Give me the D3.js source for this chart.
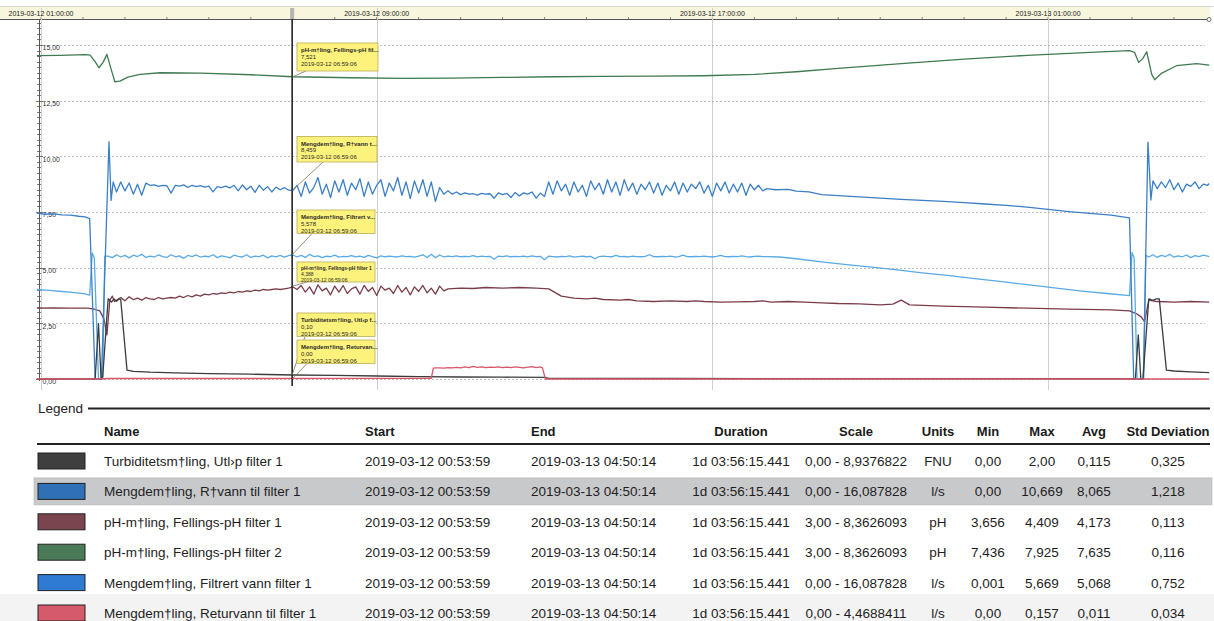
<!DOCTYPE html>
<html><head><meta charset="utf-8">
<script src="https://cdn.jsdelivr.net/npm/d3@7"></script>
<style>
body{margin:0;background:#fff;}
svg{display:block;font-family:"Liberation Sans",Arial,sans-serif;}
</style></head><body>
<svg id="c" width="1214" height="621"></svg>
<script>
// ---------------- DATA ----------------
// times are hours after 2019-03-12 00:00:00
const startHour = 0.8997;   // 00:53:59
const endHour = 28.8373;    // 2019-03-13 04:50:14
const cursorHour = 6.9850;  // 06:59:06
const WIG_STEP = 0.1;       // logging interval of the dense (wiggly) parts, hours

const seriesNames = ["Turbiditetsm†ling, Utl›p filter 1","Mengdem†ling, R†vann til filter 1","pH-m†ling, Fellings-pH filter 1","pH-m†ling, Fellings-pH filter 2","Mengdem†ling, Filtrert vann filter 1","Mengdem†ling, Returvann til filter 1"];
const scaleMins = [0, 0, 3, 3, 0, 0];
const scaleMaxs = [8.9376822, 16.087828, 8.3626093, 8.3626093, 16.087828, 4.4688411];

// Turbidity (FNU)
const turbPts = [[0.90,0.00],[2.29,0.00],[2.37,1.38],[2.43,0.03],[2.47,0.05],[2.60,2.00],[2.68,1.92],[2.74,2.00],[2.80,1.94],[2.86,2.00],[2.90,1.98],[3.05,0.22],[3.20,0.19],[3.60,0.17],[4.20,0.155],[5.00,0.135],[6.00,0.12],[7.00,0.10],[8.00,0.09],[9.00,0.075],[10.0,0.06],[11.0,0.05],[12.0,0.045],[13.0,0.04],[13.1,0.015],[16.0,0.012],[20.0,0.01],[24.0,0.008],[26.94,0.005],[27.08,0.0],[27.15,1.10],[27.21,0.0],[27.26,0.0],[27.40,2.00],[27.50,1.96],[27.58,2.00],[27.65,2.00],[27.82,0.22],[28.0,0.20],[28.4,0.18],[28.84,0.16]];

// Raw water flow (l/s)
const ravannHead = [[0.90,7.45],[1.10,7.40],[1.30,7.42],[1.50,7.37],[1.70,7.36],[1.90,7.31],[2.05,7.28],[2.16,7.20],[2.29,0],[2.44,0],[2.62,10.66],[2.67,8.02],[2.72,8.85]];
const ravannWigStart = 2.8;
const ravannWiggle = [8.40,8.85,8.45,8.80,8.30,8.75,8.25,8.80,
 8.70,8.72,8.65,8.70,8.68,8.35,8.70,8.66,8.72,8.60,8.70,8.64,8.68,8.62,8.66,8.40,8.64,8.60,8.66,8.58,
 8.70,8.45,8.72,8.50,8.66,8.38,8.70,8.48,8.64,8.40,8.62,8.50,8.60,8.48,8.46,
 8.70,8.20,8.85,8.35,8.60,9.05,8.30,8.75,8.15,8.90,8.40,8.95,8.25,8.80,8.50,9.00,8.20,8.85,8.30,8.70,8.95,8.20,8.80,8.45,9.05,8.25,8.85,8.10,8.90,8.35,8.95,8.20,8.85,7.98,8.60,8.30,
 8.45,8.30,8.40,8.28,8.36,8.30,8.32,8.26,8.34,8.30,8.32,8.12,8.36,8.28,8.34,8.15,8.38,8.22,8.36,8.30,8.40,8.12,8.35,8.20,
 8.85,8.30,8.90,8.45,8.75,8.25,8.85,8.40,8.70,8.20,8.90,8.50,8.80,8.30,8.95,8.40,8.85,8.25,8.95,8.45,8.80,8.30,8.75,8.50,8.85,8.35,8.80,8.25,8.70,8.45,8.85,8.30,8.80,8.40,8.75,8.55,8.85,8.35,8.70,8.20,8.80,8.45,8.85,8.35,8.75,8.40,8.80,8.25,8.75,8.50,8.70,8.45];
const ravannTail = [[18.3,8.55],[18.5,8.50],[18.8,8.52],[19.0,8.44],[19.3,8.40],[19.6,8.28],[20.0,8.24],[20.5,8.18],[21.0,8.12],[21.5,8.07],[22.0,8.02],[22.5,7.98],[23.0,7.92],[23.5,7.86],[24.0,7.80],[24.5,7.72],[25.0,7.62],[25.5,7.52],[26.0,7.44],[26.5,7.36],[26.94,7.24],[27.04,0],[27.27,0],[27.38,10.64],[27.45,8.04],[27.50,8.90],[27.6,8.55],[27.7,8.85],[27.8,8.60],[27.9,8.95],[28.0,8.50],[28.1,8.80],[28.2,8.40],[28.3,8.75],[28.4,8.65],[28.5,8.85],[28.6,8.55],[28.7,8.75],[28.8,8.70],[28.84,8.78]];

// pH filter 1
const phOneHead = [[0.90,4.06],[1.30,4.065],[1.70,4.06],[2.10,4.06],[2.24,4.05],[2.40,4.02],[2.50,3.90],[2.57,3.66],[2.64,4.18],[2.70,4.24],[2.75,4.16]];
const phOneWigStart = 2.8;
const phOneWiggle = [4.18,4.22,4.17,4.23,4.19,4.21,4.18,4.22,4.20,4.19,4.22,4.20,4.21,
 4.22,4.21,4.24,4.22,4.25,4.23,4.26,4.24,4.27,4.26,4.28,4.27,4.29,4.28,4.30,4.29,4.31,4.30,4.32,4.31,4.33,4.32,4.34,4.33,4.34,4.35,4.34,4.35,4.36,4.38,
 4.34,4.40,4.30,4.38,4.27,4.41,4.32,4.36,4.26,4.39,4.30,4.40,4.28,4.35,4.38,4.27,4.40,4.31,4.37,4.25,4.39,4.33,4.36,4.28,4.40,4.30,4.37,4.26,4.38,4.31,4.40,4.29,4.36,4.27,4.39,4.32];
const phOneTail = [[10.7,4.35],[11.0,4.36],[11.3,4.355],[11.6,4.37],[12.0,4.36],[12.4,4.37],[12.8,4.36],[13.1,4.35],[13.4,4.24],[13.7,4.21],[14.0,4.20],[14.2,4.21],[14.4,4.19],[14.8,4.18],[15.0,4.19],[15.2,4.17],[15.6,4.16],[16.0,4.17],[16.4,4.16],[16.6,4.17],[16.8,4.16],[17.2,4.15],[17.6,4.155],[18.0,4.16],[18.2,4.17],[18.4,4.15],[18.8,4.16],[19.2,4.15],[19.6,4.14],[20.0,4.13],[20.5,4.125],[21.0,4.11],[21.3,4.12],[21.5,4.18],[21.7,4.11],[22.5,4.09],[23.5,4.075],[24.5,4.06],[25.5,4.045],[26.5,4.035],[26.94,4.02],[27.10,3.98],[27.22,3.93],[27.30,3.86],[27.40,4.18],[27.6,4.16],[28.0,4.15],[28.4,4.16],[28.84,4.15]];

// pH filter 2
const phTwoPts = [[0.90,7.84],[1.45,7.845],[2.05,7.855],[2.17,7.85],[2.29,7.75],[2.38,7.66],[2.48,7.74],[2.57,7.86],[2.67,7.64],[2.76,7.45],[2.88,7.46],[3.07,7.52],[3.36,7.56],[3.84,7.585],[4.8,7.58],[6.0,7.555],[7.0,7.525],[8.4,7.51],[9.6,7.50],[10.8,7.505],[12.0,7.515],[13.2,7.525],[14.4,7.53],[15.6,7.535],[16.8,7.54],[18.0,7.56],[19.0,7.60],[20.0,7.65],[21.5,7.72],[23.0,7.79],[24.5,7.845],[26.0,7.89],[26.94,7.915],[27.06,7.89],[27.16,7.74],[27.26,7.80],[27.35,7.90],[27.47,7.56],[27.54,7.48],[27.71,7.58],[28.06,7.69],[28.54,7.72],[28.84,7.70]];

// Filtered water flow (l/s)
const filtHead = [[0.90,4.02],[1.20,3.98],[1.50,3.93],[1.80,3.88],[2.05,3.82],[2.16,3.77],[2.22,5.66],[2.27,5.45],[2.37,0],[2.47,0],[2.52,5.52]];
const filtWigStart = 2.6;
const filtWiggle = [5.52,5.45,5.58,5.48,5.55,5.44,5.56,5.50,5.60,5.46,5.52,5.48,5.57,5.50,5.46,5.58,5.49,5.53,5.42,5.55,5.50,5.57,5.47,5.52,5.49,5.58,5.45,5.53,5.50,5.44,5.56,5.51,5.48,5.58,5.46,5.52,5.50,5.56,5.44,5.53,5.49,5.55,5.47,5.54,5.58,
 5.48,5.55,5.46,5.60,5.50,5.53,5.45,5.52,5.49,5.56,5.47,5.51,5.50,5.54,5.48,5.52,5.46,5.55,5.50,5.44,5.53,5.49,5.52,5.50,5.48,5.53,5.50,5.51,5.47,5.52,5.58,5.46,5.60,5.45,5.57,5.48,5.52,5.50,5.53,5.49,5.51,5.50,5.54,5.48,5.52,5.50,5.51,5.38,5.52,5.50,5.53,5.49,5.51,5.50,5.52,5.48,5.53,5.50,5.51,5.36,
 5.52,5.50,5.48,5.51,5.50,5.53,5.47,5.50,5.52,5.49,5.51,5.40,5.50,5.52,5.50,5.49,5.55,5.50,5.51,5.48,5.52,5.50,5.49,5.51,5.58,5.50,5.49,5.51,5.50,5.52,5.48,5.50,5.56,5.50,5.49,5.51,5.50,5.52,5.50,5.48,5.51,5.55,5.50,5.49,5.51,5.50,5.53,5.50,5.48,5.51,5.52,5.50];
const filtTail = [[18.3,5.50],[18.6,5.48],[19.0,5.40],[19.6,5.26],[20.2,5.14],[20.8,5.02],[21.4,4.90],[22.0,4.77],[22.6,4.65],[23.2,4.52],[23.9,4.37],[24.5,4.24],[25.1,4.10],[25.8,3.95],[26.4,3.84],[26.94,3.74],[27.00,5.68],[27.05,5.45],[27.12,0],[27.28,0],[27.33,5.55],[27.4,5.48],[27.5,5.58],[27.6,5.46],[27.7,5.55],[27.8,5.50],[27.9,5.60],[28.0,5.47],[28.1,5.53],[28.2,5.49],[28.3,5.57],[28.4,5.45],[28.5,5.54],[28.6,5.50],[28.7,5.56],[28.8,5.52],[28.84,5.50]];

// Return water flow (l/s)
const returHead = [[0.90,0.0],[2.40,0.0],[2.60,0.006],[6.0,0.006],[10.3,0.008],[10.35,0.135]];
const returWigStart = 10.4;
const returWiggle = [0.138,0.140,0.136,0.142,0.139,0.146,0.140,0.150,0.143,0.157,0.145,0.150,0.142,0.148,0.144,0.152,0.141,0.149,0.143,0.151,0.146,0.140,0.148,0.153,0.142,0.150];
const returTail = [[12.95,0.138],[13.02,0.0],[28.84,0.0]];

// tooltip texts at the cursor
const tipTitles = ["pH-m†ling, Fellings-pH fil...","Mengdem†ling, R†vann t...","Mengdem†ling, Filtrert v...","pH-m†ling, Fellings-pH filter 1","Turbiditetsm†ling, Utl›p f...","Mengdem†ling, Returvan..."];
const tipValues = [7.521, 8.459, 5.578, 4.388, 0.10, 0.00];
const tipValueText = ["7,521","8,459","5,578","4,388","0,10","0,00"];
const tipSeries = [3, 1, 4, 2, 0, 5];
const tipDate = "2019-03-12 06:59:06";

// legend table
const legStart = "2019-03-12 00:53:59";
const legEnd = "2019-03-13 04:50:14";
const legDuration = "1d 03:56:15.441";
const legScales = ["0,00 - 8,9376822","0,00 - 16,087828","3,00 - 8,3626093","3,00 - 8,3626093","0,00 - 16,087828","0,00 - 4,4688411"];
const legUnits = ["FNU","l/s","pH","pH","l/s","l/s"];
const legMins = ["0,00","0,00","3,656","7,436","0,001","0,00"];
const legMaxs = ["2,00","10,669","4,409","7,925","5,669","0,157"];
const legAvgs = ["0,115","8,065","4,173","7,635","5,068","0,011"];
const legStds = ["0,325","1,218","0,113","0,116","0,752","0,034"];
const yTickValues = [0, 2.5, 5, 7.5, 10, 12.5, 15];

// ---------------- STYLE ----------------
const lineColors = ["#3c3c3c","#3b7fc6","#7b3c4a","#3f7a52","#58aae6","#d9566a"];
const swatchColors = ["#3f3f3f","#2f70b6","#7b4550","#4a7a58","#2f7ad2","#d55a6c"];
const drawOrder = [3, 2, 4, 1, 0, 5];

// ---------------- BUILD ----------------
const T0 = new Date(2019, 2, 12, 0, 0, 0).getTime();
const hd = h => new Date(T0 + h * 3600000);
const expand = (start, vals) => vals.map((v, i) => [+(start + i * WIG_STEP).toFixed(3), v]);
const seriesPts = [
  turbPts,
  ravannHead.concat(expand(ravannWigStart, ravannWiggle), ravannTail),
  phOneHead.concat(expand(phOneWigStart, phOneWiggle), phOneTail),
  phTwoPts,
  filtHead.concat(expand(filtWigStart, filtWiggle), filtTail),
  returHead.concat(expand(returWigStart, returWiggle), returTail)
];

const svg = d3.select("#c");
const x = d3.scaleTime().domain([hd(startHour), hd(endHour)]).range([36.8, 1209.1]);
const yTop = 16.087828;
const y = d3.scaleLinear().domain([0, yTop]).range([379, 20.8]);
const sy = seriesNames.map((_, i) => d3.scaleLinear().domain([scaleMins[i], scaleMaxs[i]]).range(y.range()));

// top time band
svg.append("line").attr("x1", 0).attr("x2", 1214).attr("y1", 6.5).attr("y2", 6.5).attr("stroke", "#d4d4d4");
svg.append("rect").attr("x", 0).attr("y", 7).attr("width", 1210).attr("height", 12).attr("fill", "#f8f6dc");
svg.append("line").attr("x1", 0).attr("x2", 1210).attr("y1", 19.5).attr("y2", 19.5).attr("stroke", "#555").attr("stroke-width", 1);
const hourTicks = x.ticks(d3.timeHour.every(1));
svg.append("g").selectAll("line").data(hourTicks).join("line")
  .attr("x1", d => x(d)).attr("x2", d => x(d)).attr("y1", 17).attr("y2", 19.5)
  .attr("stroke", "#666").attr("stroke-width", 0.8);
const majorTicks = x.ticks(d3.timeHour.filter(d => d.getHours() % 8 === 1));
const fmt = d3.timeFormat("%Y-%m-%d %H:%M:%S");

// vertical grid
svg.append("g").selectAll("line").data(majorTicks).join("line")
  .attr("x1", d => Math.round(x(d)) + 0.5).attr("x2", d => Math.round(x(d)) + 0.5)
  .attr("y1", 8).attr("y2", 390).attr("stroke", "#cfcfcf").attr("stroke-width", 1);
svg.append("g").selectAll("text").data(majorTicks).join("text")
  .attr("x", d => x(d)).attr("y", 16.3).attr("text-anchor", "middle")
  .attr("font-size", 7).attr("fill", "#222").text(fmt);
svg.append("circle").attr("cx", 1209).attr("cy", 19.5).attr("r", 2).attr("fill", "#fff").attr("stroke", "#666");

// horizontal dashed grid
svg.append("g").selectAll("line").data(yTickValues).join("line")
  .attr("x1", 40).attr("x2", 1205).attr("y1", d => Math.round(y(d)) + 0.5).attr("y2", d => Math.round(y(d)) + 0.5)
  .attr("stroke", "#bdbdbd").attr("stroke-dasharray", "2,2");

// y axis
const axX = 39.5;
svg.append("line").attr("x1", axX).attr("x2", axX).attr("y1", 19.5).attr("y2", 381).attr("stroke", "#555");
svg.append("g").selectAll("line").data(d3.range(0, 16.01, 0.25)).join("line")
  .attr("x1", d => (d % 2.5 === 0) ? 36 : 37).attr("x2", d => (d % 2.5 === 0) ? 43 : 41)
  .attr("y1", d => Math.round(y(d)) + 0.5).attr("y2", d => Math.round(y(d)) + 0.5)
  .attr("stroke", "#555").attr("stroke-width", 0.8);
svg.append("g").selectAll("text").data(yTickValues).join("text")
  .attr("x", 42.5).attr("y", d => y(d) + 5.2)
  .attr("font-size", 7).attr("fill", "#333")
  .text(d => d3.format(".2f")(d).replace(".", ","));

// series lines
const lineGen = i => d3.line().x(d => x(hd(d[0]))).y(d => sy[i](d[1]));
drawOrder.forEach(i => {
  svg.append("path").datum(seriesPts[i]).attr("d", lineGen(i))
    .attr("fill", "none").attr("stroke", lineColors[i]).attr("stroke-width", 1.3)
    .attr("stroke-linejoin", "round");
});

// cursor
const cx = x(hd(cursorHour));
svg.append("line").attr("x1", cx).attr("x2", cx).attr("y1", 8).attr("y2", 386).attr("stroke", "#222").attr("stroke-width", 1.6);
svg.append("rect").attr("x", cx - 2).attr("y", 8).attr("width", 4).attr("height", 11).attr("fill", "#b5b5b5");

// tooltips (layout)
const tipBoxY = [43, 136.5, 210, 262, 313, 340];
const tipBoxW = [81, 80, 78, 78, 78, 78];
const tipBoxH = [28, 25.5, 23.5, 20, 23.5, 23.5];
const tipAnchorX = [306, 323, 312, 307, 305, 307];
const tipFont = [6, 6, 6, 5, 6, 6];
const tg = svg.append("g");
tipTitles.forEach((t, k) => {
  const s = tipSeries[k];
  tg.append("line").attr("x1", cx).attr("y1", sy[s](tipValues[k]))
    .attr("x2", tipAnchorX[k]).attr("y2", tipBoxY[k] + tipBoxH[k])
    .attr("stroke", "#7a7656").attr("stroke-width", 0.8);
});
tipTitles.forEach((t, k) => {
  const bx = 297, by = tipBoxY[k], fs = tipFont[k];
  tg.append("rect").attr("x", bx).attr("y", by).attr("width", tipBoxW[k]).attr("height", tipBoxH[k])
    .attr("fill", "#fdf27c").attr("stroke", "#b9ad55").attr("stroke-width", 0.8);
  const lh = fs * 1.15;
  const ty = by + 3 + fs;
  [t, tipValueText[k], tipDate].forEach((s, j) => {
    tg.append("text").attr("x", bx + 4).attr("y", ty + j * lh)
      .attr("font-size", fs).attr("fill", "#2a2a2a").attr("font-weight", j === 0 ? "bold" : "normal").text(s);
  });
});

// ---------------- LEGEND TABLE ----------------
svg.append("rect").attr("x", 0).attr("y", 594).attr("width", 1214).attr("height", 27).attr("fill", "#f3f3f3");
svg.append("text").attr("x", 38).attr("y", 413).attr("font-size", 13.5).attr("fill", "#222").text("Legend");
svg.append("line").attr("x1", 88).attr("x2", 1210).attr("y1", 408.5).attr("y2", 408.5).attr("stroke", "#222").attr("stroke-width", 2);
svg.append("line").attr("x1", 37).attr("x2", 1210).attr("y1", 444).attr("y2", 444).attr("stroke", "#222").attr("stroke-width", 2);

const rowY = d3.range(6).map(i => 461 + i * 30.4);
svg.append("rect").attr("x", 34).attr("y", rowY[1] - 13.5).attr("width", 1178).attr("height", 27)
  .attr("fill", "#c8c9cb").attr("stroke", "#b4b5b7").attr("stroke-width", 0.6);

const cols = [
  {h: "Name", x: 104, a: "start"},
  {h: "Start", x: 365, a: "start"},
  {h: "End", x: 531, a: "start"},
  {h: "Duration", x: 741, a: "middle"},
  {h: "Scale", x: 856, a: "middle"},
  {h: "Units", x: 938, a: "middle"},
  {h: "Min", x: 988, a: "middle"},
  {h: "Max", x: 1042, a: "middle"},
  {h: "Avg", x: 1094, a: "middle"},
  {h: "Std Deviation", x: 1168, a: "middle"}
];
svg.append("g").selectAll("text").data(cols).join("text")
  .attr("x", d => d.x).attr("y", 435.5).attr("text-anchor", d => d.a)
  .attr("font-size", 13).attr("font-weight", "bold").attr("fill", "#1a1a1a").text(d => d.h);

seriesNames.forEach((n, i) => {
  const ry = rowY[i];
  svg.append("rect").attr("x", 38).attr("y", ry - 8).attr("width", 47).attr("height", 16)
    .attr("fill", swatchColors[i]).attr("stroke", "#222").attr("stroke-width", 1);
  const vals = [n, legStart, legEnd, legDuration, legScales[i], legUnits[i], legMins[i], legMaxs[i], legAvgs[i], legStds[i]];
  vals.forEach((v, c) => {
    svg.append("text").attr("x", cols[c].x).attr("y", ry + 5).attr("text-anchor", cols[c].a)
      .attr("font-size", 13.5).attr("fill", "#1e1e1e").text(v);
  });
});
</script>
</body></html>
